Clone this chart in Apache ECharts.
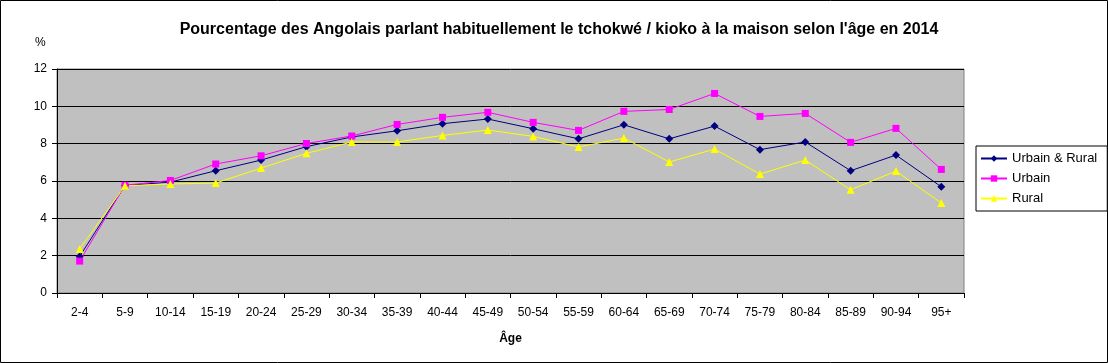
<!DOCTYPE html>
<html>
<head>
<meta charset="utf-8">
<script src="https://cdn.jsdelivr.net/npm/echarts@6/dist/echarts.min.js"></script>
<style>html,body{margin:0;padding:0;background:#fff}#c{width:1108px;height:363px}</style>
</head>
<body>
<div id="c"></div>
<script>
const categories = ['2-4','5-9','10-14','15-19','20-24','25-29','30-34','35-39','40-44','45-49','50-54','55-59','60-64','65-69','70-74','75-79','80-84','85-89','90-94','95+'];
const urbainRural = [1.96,5.76,5.94,6.55,7.12,7.84,8.36,8.69,9.07,9.32,8.80,8.26,9.01,8.26,8.94,7.68,8.09,6.55,7.39,5.69];
const urbain = [1.71,5.77,6.03,6.91,7.35,8.01,8.41,9.03,9.41,9.68,9.14,8.71,9.73,9.83,10.69,9.46,9.62,8.07,8.82,6.62];
const rural = [2.36,5.74,5.84,5.89,6.69,7.48,8.09,8.09,8.44,8.73,8.39,7.82,8.30,7.02,7.71,6.37,7.12,5.53,6.53,4.82];
const yTicks = [0,2,4,6,8,10,12];

const font = 'Liberation Sans, Arial, sans-serif';
const chart = echarts.init(document.getElementById('c'), null, {renderer:'canvas'});
chart.setOption({
  animation: false,
  backgroundColor: '#fff',
  title: [
    {text: 'Pourcentage des Angolais parlant habituellement le tchokwé / kioko à la maison selon l\'âge en 2014',
     left: 554, textAlign: 'center', top: 17,
     textStyle: {fontFamily: font, fontSize: 16, fontWeight: 'bold', color: '#000'}},
    {text: '%', left: 30, top: 32, textStyle: {fontFamily: font, fontSize: 12, fontWeight: 'normal', color: '#000'}}
  ],
  graphic: [{type: 'rect', shape: {x: 0.5, y: 0.5, width: 1107, height: 362}, style: {fill: 'none', stroke: '#000', lineWidth: 1}, silent: true}],
  grid: {left: 57, right: 144, top: 69, height: 224, show: true, backgroundColor: '#C0C0C0', borderColor: '#808080', borderWidth: 1},
  legend: {
    orient: 'vertical', left: 976, top: 146,
    padding: [6, 10, 6, 4], itemGap: 7, itemWidth: 26, itemHeight: 8,
    borderColor: '#000', borderWidth: 1, backgroundColor: '#fff',
    textStyle: {fontFamily: font, fontSize: 13, color: '#000'},
    data: ['Urbain & Rural', 'Urbain', 'Rural']
  },
  xAxis: {
    type: 'category', data: categories, boundaryGap: true,
    name: 'Âge', nameLocation: 'middle', nameGap: 40,
    nameTextStyle: {fontFamily: font, fontSize: 12, fontWeight: 'bold', color: '#000'},
    axisLine: {lineStyle: {color: '#000', width: 1}},
    axisTick: {show: true, alignWithLabel: false, length: 5, lineStyle: {color: '#000'}},
    axisLabel: {fontFamily: font, fontSize: 12, color: '#000', margin: 14, interval: 0},
    splitLine: {show: false}
  },
  yAxis: {
    type: 'value', min: 0, max: 12, interval: 2,
    axisLine: {show: true, lineStyle: {color: '#000', width: 1}},
    axisTick: {show: true, length: 5, lineStyle: {color: '#000'}},
    axisLabel: {fontFamily: font, fontSize: 12, color: '#000', margin: 10,
      formatter: v => yTicks.includes(v) ? String(v) : ''},
    splitLine: {show: true, lineStyle: {color: '#000', width: 1}}
  },
  series: [
    {name: 'Urbain & Rural', type: 'line', data: urbainRural, symbol: 'diamond', symbolSize: 8,
     itemStyle: {color: '#000080'}, lineStyle: {color: '#000080', width: 1}},
    {name: 'Urbain', type: 'line', data: urbain, symbol: 'rect', symbolSize: 7,
     itemStyle: {color: '#FF00FF'}, lineStyle: {color: '#FF00FF', width: 1}},
    {name: 'Rural', type: 'line', data: rural, symbol: 'triangle', symbolSize: 8,
     itemStyle: {color: '#FFFF00'}, lineStyle: {color: '#FFFF00', width: 1}}
  ]
});
</script>
</body>
</html>
